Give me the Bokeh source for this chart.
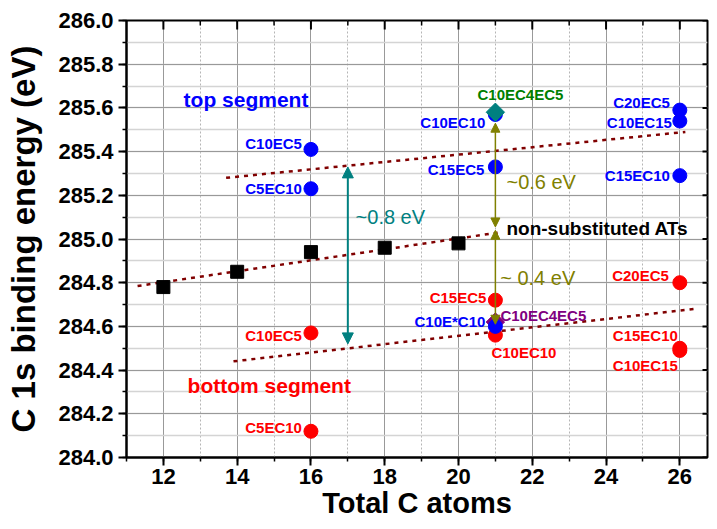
import math
from bokeh.plotting import figure
from bokeh.models import (Range1d, SingleIntervalTicker, Arrow, NormalHead,
                          Label, PrintfTickFormatter)
from bokeh.embed import file_html
from bokeh.resources import INLINE
from bokeh.core.properties import value

# ---------------- data ----------------
ref_atoms = [12, 14, 16, 18, 20]
ref_be = [284.78, 284.85, 284.94, 284.96, 284.98]

top_atoms = [16, 16, 21, 21, 26, 26, 26]
top_be = [285.41, 285.23, 285.57, 285.33, 285.59, 285.54, 285.29]
top_names = ["C10EC5", "C5EC10", "C10EC10", "C15EC5", "C20EC5", "C10EC15", "C15EC10"]

bot_atoms = [16, 16, 21, 21, 26, 26, 26]
bot_be = [284.57, 284.12, 284.72, 284.56, 284.80, 284.50, 284.49]
bot_names = ["C10EC5", "C5EC10", "C15EC5", "C10EC10", "C20EC5", "C15EC10", "C10EC15"]

star_atoms = [21]
star_be = [284.60]
star_names = ["C10E*C10"]

ec4_top_atoms = [21]
ec4_top_be = [285.58]
ec4_bot_atoms = [21]
ec4_bot_be = [284.62]
ec4_name = "C10EC4EC5"

# dotted trend lines (end points)
mid_line_x = [11.3, 21.1]
mid_line_y = [284.785, 285.03]
top_line_x = [13.7, 26.15]
top_line_y = [285.28, 285.49]
bot_line_x = [13.9, 26.4]
bot_line_y = [284.44, 284.68]

# arrows (start/end in data units)
arrow_08 = (17, 285.33, 17, 284.52)
arrow_06 = (21, 285.055, 21, 285.53)
arrow_04 = (21, 285.04, 21, 284.61)

# axis ticks
x_ticks = [12, 14, 16, 18, 20, 22, 24, 26]
y_ticks = [284.0, 284.2, 284.4, 284.6, 284.8, 285.0, 285.2, 285.4, 285.6, 285.8, 286.0]
X_MIN, X_MAX = 11, 26.75
Y_MIN, Y_MAX = 284.0, 286.0

# ---------------- label placement (screen px offsets) ----------------
top_dx = [-9, -9, -10, -11, -10, -8, -10]
top_dy = [-6, 0, 8, 3, -8, 1, 0]
bot_dx = [-9, -9, -9, -4, -11, -2, -2]
bot_dy = [3, -4, -3, 17, -7, -13, 15]
bot_align = ["right", "right", "right", "left", "right", "right", "right"]

FONT = "Liberation Sans"

p = figure(width=709, height=521, x_range=Range1d(X_MIN, X_MAX), y_range=Range1d(Y_MIN, Y_MAX),
           output_backend="svg", toolbar_location=None,
           min_border_left=126, min_border_right=2, min_border_top=20, min_border_bottom=64)

xt = SingleIntervalTicker(interval=2, num_minor_ticks=2)
yt = SingleIntervalTicker(interval=0.2, num_minor_ticks=2)

xa = p.below[0]
ya = p.left[0]
xa.ticker = xt
ya.ticker = yt
ya.formatter = PrintfTickFormatter(format="%.1f")
for ax in (xa, ya):
    ax.major_label_text_font = FONT
    ax.major_label_text_font_style = "bold"
    ax.major_label_text_font_size = "22px"
    ax.major_label_text_color = "black"
    ax.axis_label_text_font = FONT
    ax.axis_label_text_font_style = "bold"
    ax.axis_label_text_color = "black"
    ax.axis_line_width = 2
    ax.major_tick_line_width = 2
    ax.minor_tick_line_width = 1.5
    ax.major_tick_in = 0
    ax.minor_tick_in = 0
    ax.major_tick_out = 8
    ax.minor_tick_out = 4
xa.axis_label = "Total C atoms"
ya.axis_label = "C 1s binding energy (eV)"
xa.axis_label_text_font_size = "29px"
ya.axis_label_text_font_size = "33px"
xa.major_label_standoff = 3
xa.axis_label_standoff = 0
ya.major_label_standoff = 5
ya.axis_label_standoff = 13

p.xgrid.ticker = xt
p.ygrid.ticker = yt
p.xgrid.grid_line_color = "#999999"
p.ygrid.grid_line_color = "#999999"
p.xgrid.minor_grid_line_color = "#b5b5b5"
p.xgrid.minor_grid_line_dash = "2 2"
p.ygrid.minor_grid_line_color = "#d4d4d4"
p.ygrid.minor_grid_line_width = 1.5
p.outline_line_color = "black"
p.outline_line_width = 2

# mirror ticks on top and right edges (dash markers clipped by the frame -> inward ticks)
x_minor = [v + 1 for v in x_ticks if v + 1 < X_MAX]
p.scatter(x_ticks, [Y_MAX] * len(x_ticks), marker="dash", angle=math.pi / 2, size=18,
          line_color="black", line_width=2)
p.scatter(x_minor, [Y_MAX] * len(x_minor), marker="dash", angle=math.pi / 2, size=10,
          line_color="black", line_width=1.5)
p.scatter([X_MAX] * len(y_ticks), y_ticks, marker="dash", size=10,
          line_color="black", line_width=2)

# trend lines
for lx, ly in ((mid_line_x, mid_line_y), (top_line_x, top_line_y), (bot_line_x, bot_line_y)):
    p.line(lx, ly, line_color="#800000", line_width=2.5, line_dash="4 5")

# markers
p.scatter(ref_atoms, ref_be, marker="square", size=13, color="black")
p.scatter(bot_atoms, bot_be, marker="circle", size=14, color="red")
p.scatter(ec4_bot_atoms, ec4_bot_be, marker="square", angle=math.pi / 4, size=13, color="purple")
p.scatter(top_atoms, top_be, marker="circle", size=14, color="blue")
p.scatter(star_atoms, star_be, marker="circle", size=14, color="blue")
p.scatter(ec4_top_atoms, ec4_top_be, marker="square", angle=math.pi / 4, size=13, color="teal")

# arrows
def add_arrow(a, color, width, size):
    p.add_layout(Arrow(start=NormalHead(size=size, fill_color=color, line_color=color),
                       end=NormalHead(size=size, fill_color=color, line_color=color),
                       x_start=a[0], y_start=a[1], x_end=a[2], y_end=a[3],
                       line_color=color, line_width=width))

add_arrow(arrow_08, "teal", 2, 11)
add_arrow(arrow_06, "olive", 1.5, 9)
add_arrow(arrow_04, "olive", 1.5, 9)

# point labels
common = dict(text_font=value(FONT), text_font_style="bold", text_font_size=value("15px"),
              text_baseline="middle")
p.text(x=top_atoms, y=top_be, text=top_names, x_offset=top_dx, y_offset=top_dy,
       text_align="right", text_color="blue", **common)
for i in range(len(bot_names)):
    p.text(x=[bot_atoms[i]], y=[bot_be[i]], text=[bot_names[i]], x_offset=bot_dx[i],
           y_offset=bot_dy[i], text_align=bot_align[i], text_color="red", **common)
p.text(x=star_atoms, y=star_be, text=star_names, x_offset=-10, y_offset=-5,
       text_align="right", text_color="blue", **common)
p.text(x=ec4_top_atoms, y=ec4_top_be, text=[ec4_name], x_offset=25, y_offset=-18,
       text_align="center", text_color="green", **common)
p.text(x=ec4_bot_atoms, y=ec4_bot_be, text=[ec4_name], x_offset=5, y_offset=-7,
       text_align="left", text_color="purple", **common)

# free annotations
def add_label(x, y, text, color, size, bold=True, align="center"):
    p.add_layout(Label(x=x, y=y, text=text, text_color=color, text_font=FONT,
                       text_font_size=size, text_font_style="bold" if bold else "normal",
                       text_align=align, text_baseline="middle"))

add_label(14.24, 285.64, "top segment", "blue", "21px")
add_label(14.87, 284.33, "bottom segment", "red", "21px")
add_label(21.30, 285.05, "non-substituted ATs", "black", "19px", align="left")
add_label(17.21, 285.10, "~0.8 eV", "teal", "20px", bold=False, align="left")
add_label(21.30, 285.26, "~0.6 eV", "olive", "20px", bold=False, align="left")
add_label(21.13, 284.82, "~ 0.4 eV", "olive", "20px", bold=False, align="left")

open("out.html", "w").write(file_html(p, INLINE))
